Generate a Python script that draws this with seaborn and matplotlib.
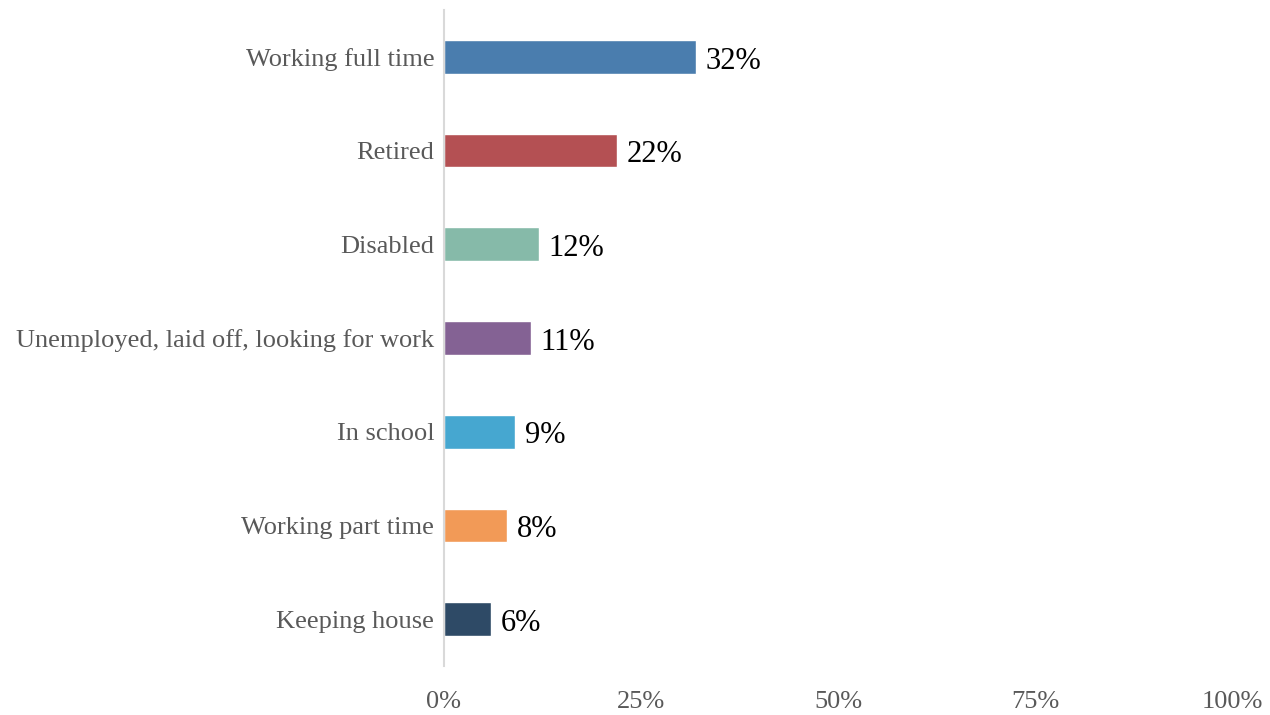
import matplotlib.pyplot as plt
import seaborn as sns
import pandas as pd

# data
categories = ["Working full time", "Retired", "Disabled",
              "Unemployed, laid off, looking for work", "In school",
              "Working part time", "Keeping house"]
shares = [32, 22, 12, 11, 9, 8, 6]
bar_colors = ["#4A7DAE", "#B45053", "#86BAA9", "#846294",
              "#46A7D0", "#F29A57", "#2E4A66"]
x_ticks = [0, 25, 50, 75, 100]

sns.set_theme(style="white")
plt.rcParams['font.family'] = ['Liberation Serif', 'DejaVu Serif']

df = pd.DataFrame({"category": categories, "share": shares})

fig = plt.figure(figsize=(12.7, 7.15), dpi=100)
ax = fig.add_axes([0.3496, 0.0685, 0.6204, 0.9175])

sns.barplot(data=df, x="share", y="category", hue="category",
            palette=bar_colors, orient="h", width=0.36,
            legend=False, ax=ax, saturation=1)

# value labels at the end of each bar (nudged a bit down like the original)
for p in ax.patches:
    w = p.get_width()
    ax.annotate(f"{w:.0f}%", (w, p.get_y() + p.get_height() / 2),
                xytext=(7, -3), textcoords="offset points",
                ha="left", va="center", fontsize=22, color="black")

ax.set_xlim(0, 100)
ax.set_ylim(len(categories) - 0.5, -0.5)
ax.set_xticks(x_ticks)
ax.set_xticklabels([f"{t}%" for t in x_ticks])
ax.set_xlabel("")
ax.set_ylabel("")

ax.tick_params(axis="x", length=0, pad=18, labelsize=19, labelcolor="#595959")
ax.tick_params(axis="y", length=0, pad=7, labelsize=19, labelcolor="#595959")

for side in ["top", "right", "bottom"]:
    ax.spines[side].set_visible(False)
ax.spines["left"].set_color("#D9D9D9")
ax.spines["left"].set_linewidth(1.5)
ax.grid(False)

fig.savefig("out.png", dpi=100)
